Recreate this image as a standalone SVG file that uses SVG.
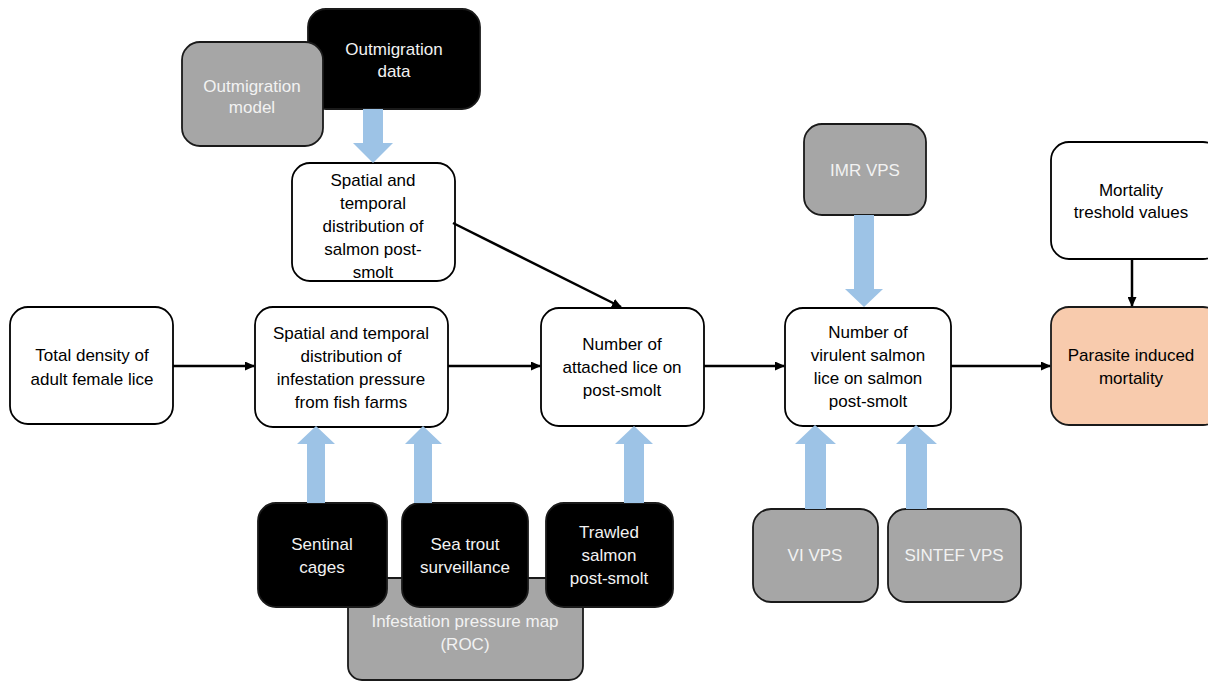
<svg xmlns="http://www.w3.org/2000/svg" width="1208" height="682" viewBox="0 0 1208 682">
<defs>
<style>
.w{fill:#ffffff;stroke:#000;stroke-width:1.8}
.b{fill:#000000;stroke:#1a1a1a;stroke-width:1.8}
.g{fill:#a6a6a6;stroke:#1a1a1a;stroke-width:1.8}
.o{fill:#f8cbad;stroke:#1a1a1a;stroke-width:1.8}
text{font-family:"Liberation Sans",Arial,sans-serif;font-size:17px;text-anchor:middle}
.tk{fill:#000}
.tw{fill:#f2f2f2}
.con{stroke:#000;stroke-width:2.5;fill:none}
.blue{fill:#9dc3e6}
</style>
<marker id="ah" markerWidth="10" markerHeight="9" refX="9" refY="4.5" orient="auto" markerUnits="userSpaceOnUse" viewBox="0 0 10 9">
<path d="M0,0 L10,4.5 L0,9 Z" fill="#000"/>
</marker>
</defs>
<rect width="1208" height="682" fill="#fff"/>

<g id="outmigration-data"><rect class="b" x="308" y="9" width="172" height="100" rx="18"/>
<text class="tw" x="394" y="55">Outmigration</text><text class="tw" x="394" y="77">data</text></g>
<g id="outmigration-model"><rect class="g" x="182" y="42" width="141" height="104" rx="18"/>
<text class="tw" x="252" y="92">Outmigration</text><text class="tw" x="252" y="113">model</text></g>

<g id="salmon-distribution"><rect class="w" x="292" y="163" width="163" height="118" rx="18"/>
<text class="tk" x="373" y="186">Spatial and</text><text class="tk" x="373" y="209">temporal</text><text class="tk" x="373" y="232">distribution of</text><text class="tk" x="373" y="255">salmon post-</text><text class="tk" x="373" y="278">smolt</text></g>

<g id="total-density"><rect class="w" x="10" y="307" width="163" height="117" rx="18"/>
<text class="tk" x="92" y="361">Total density of</text><text class="tk" x="92" y="385">adult female lice</text></g>

<g id="infestation-distribution"><rect class="w" x="255" y="307" width="193" height="120" rx="18"/>
<text class="tk" x="351" y="339">Spatial and temporal</text><text class="tk" x="351" y="362">distribution of</text><text class="tk" x="351" y="385">infestation pressure</text><text class="tk" x="351" y="408">from fish farms</text></g>

<g id="attached-lice"><rect class="w" x="541" y="308" width="163" height="118" rx="18"/>
<text class="tk" x="622" y="350">Number of</text><text class="tk" x="622" y="373">attached lice on</text><text class="tk" x="622" y="396">post-smolt</text></g>

<g id="virulent-lice"><rect class="w" x="785" y="308" width="166" height="118" rx="18"/>
<text class="tk" x="868" y="338">Number of</text><text class="tk" x="868" y="361">virulent salmon</text><text class="tk" x="868" y="384">lice on salmon</text><text class="tk" x="868" y="407">post-smolt</text></g>

<g id="parasite-mortality"><rect class="o" x="1051" y="307" width="170" height="118" rx="18"/>
<text class="tk" x="1131" y="361">Parasite induced</text><text class="tk" x="1131" y="384">mortality</text></g>

<g id="mortality-threshold"><rect class="w" x="1051" y="142" width="170" height="117" rx="18"/>
<text class="tk" x="1131" y="196">Mortality</text><text class="tk" x="1131" y="218">treshold values</text></g>

<g id="imr-vps"><rect class="g" x="804" y="124" width="122" height="91" rx="18"/>
<text class="tw" x="865" y="176">IMR VPS</text></g>

<g id="roc-map"><rect class="g" x="348" y="578" width="235" height="102" rx="14"/>
<text class="tw" x="465" y="627">Infestation pressure map</text><text class="tw" x="465" y="650">(ROC)</text></g>

<g id="sentinal-cages"><rect class="b" x="258" y="503" width="129" height="104" rx="18"/>
<text class="tw" x="322" y="550">Sentinal</text><text class="tw" x="322" y="573">cages</text></g>

<g id="sea-trout"><rect class="b" x="402" y="503" width="126" height="104" rx="18"/>
<text class="tw" x="465" y="550">Sea trout</text><text class="tw" x="465" y="573">surveillance</text></g>

<g id="trawled"><rect class="b" x="546" y="503" width="127" height="104" rx="18"/>
<text class="tw" x="609" y="538">Trawled</text><text class="tw" x="609" y="561">salmon</text><text class="tw" x="609" y="584">post-smolt</text></g>

<g id="vi-vps"><rect class="g" x="753" y="509" width="125" height="93" rx="18"/>
<text class="tw" x="815" y="561">VI VPS</text></g>

<g id="sintef-vps"><rect class="g" x="888" y="509" width="133" height="93" rx="18"/>
<text class="tw" x="954" y="561">SINTEF VPS</text></g>

<g id="connectors">
<line class="con" x1="173" y1="366" x2="254" y2="366" marker-end="url(#ah)"/>
<line class="con" x1="448" y1="366" x2="540" y2="366" marker-end="url(#ah)"/>
<line class="con" x1="704" y1="366" x2="784" y2="366" marker-end="url(#ah)"/>
<line class="con" x1="951" y1="366" x2="1050" y2="366" marker-end="url(#ah)"/>
<line class="con" x1="1132" y1="259" x2="1132" y2="306" marker-end="url(#ah)"/>
<line class="con" x1="453" y1="223" x2="621" y2="307" marker-end="url(#ah)"/>
<path class="blue" d="M363,109 H383 V143 H393 L373,163 L353,143 H363 Z"/>
<path class="blue" d="M854,215 H874 V289 H883 L864,307 L845,289 H854 Z"/>
<path class="blue" d="M307,503 V444 H297 L316,426 L335,444 H325 V503 Z"/>
<path class="blue" d="M414,503 V444 H405 L423,426 L442,444 H432 V503 Z"/>
<path class="blue" d="M624,503 V444 H615 L634,426 L653,444 H644 V503 Z"/>
<path class="blue" d="M805,509 V444 H795 L815,425 L836,444 H826 V509 Z"/>
<path class="blue" d="M906,509 V444 H896 L916,425 L937,444 H927 V509 Z"/>
</g>
</svg>
